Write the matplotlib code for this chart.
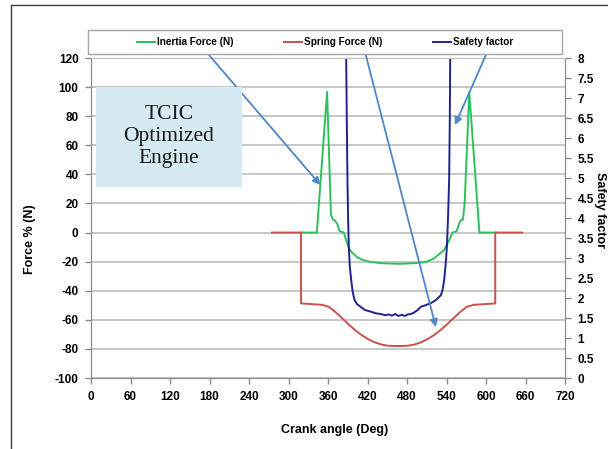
import matplotlib.pyplot as plt
from matplotlib.lines import Line2D
from matplotlib.patches import Rectangle
from matplotlib.ticker import MultipleLocator, FuncFormatter

plt.rcParams['font.family'] = ['Liberation Sans', 'DejaVu Sans']
plt.rcParams['font.weight'] = 'bold'
plt.rcParams['axes.labelweight'] = 'bold'
plt.rcParams['axes.unicode_minus'] = False

# crank angle (deg) and forces (N)
spring_angle = [275, 319, 319, 335, 351, 361, 371, 381, 391, 401, 411, 421, 431,
                441, 451, 461, 466, 471, 481, 491, 501, 511, 521, 531, 541, 551,
                561, 571, 581, 598, 614, 614, 655]
spring_force = [0, 0, -48.7, -49.2, -49.7, -51, -54.5, -58.7, -63, -67, -70.5,
                -73.3, -75.5, -77, -77.8, -78, -78, -78, -77.8, -77, -75.5, -73.3,
                -70.5, -67, -63, -58.7, -54.5, -51, -49.7, -49.2, -48.7, 0, 0]

inertia_angle = [319, 343, 358.6, 361, 364.5, 367.5, 370, 374, 377.5, 384, 388,
                 391.6, 396, 404.4, 414, 424.7, 440, 455, 466, 478, 493, 509, 521,
                 536.4, 544.1, 549.3, 555.5, 559, 562, 565, 567.5, 574.6, 590, 615]
inertia_force = [0, 0, 96.8, 62, 12, 9, 8.5, 6, 1, 0, -6, -10.6, -13.5, -17, -19,
                 -20.2, -21, -21.3, -21.5, -21.3, -21, -20.2, -17.8, -12, -5.2, 0,
                 1, 6, 8.6, 9, 20, 96.5, 0, 0]

sf_angle = [387.3, 388.5, 389.5, 390.5, 391.6, 393, 395.2, 397.5, 400.3, 404,
            409.4, 416, 424.7, 432, 440, 447, 452, 457, 462, 467, 472, 477, 481,
            486, 491, 496, 501, 508, 516, 524, 531.4, 534, 536.4, 538.5, 540.6,
            542.5, 544, 545, 545.8]
safety_factor = [8.5, 6.5, 5, 4, 3.28, 2.8, 2.45, 2.15, 1.95, 1.85, 1.78, 1.7,
                 1.66, 1.62, 1.6, 1.57, 1.59, 1.56, 1.6, 1.55, 1.58, 1.55, 1.59,
                 1.6, 1.64, 1.7, 1.78, 1.82, 1.87, 1.95, 2.07, 2.2, 2.45, 2.8,
                 3.28, 4.1, 4.95, 6.5, 8.5]

green = '#2fbf5c'
red = '#c9524e'
navy = '#22228f'
arrow_blue = '#4f86c6'
axis_gray = '#8c8c8c'
grid_gray = '#c3c3c3'

fig = plt.figure(figsize=(6.08, 4.49), dpi=100)
ax = fig.add_axes([0.1497, 0.1581, 0.7796, 0.7127])
ax2 = ax.twinx()

l1, = ax.plot(inertia_angle, inertia_force, color=green, lw=1.4)
l2, = ax.plot(spring_angle, spring_force, color=red, lw=1.4)
l3, = ax2.plot(sf_angle, safety_factor, color=navy, lw=1.4)

ax.set_xlim(0, 720)
ax.set_ylim(-100, 120)
ax2.set_ylim(0, 8)
ax.xaxis.set_major_locator(MultipleLocator(60))
ax.yaxis.set_major_locator(MultipleLocator(20))
ax2.yaxis.set_major_locator(MultipleLocator(0.5))
ax2.yaxis.set_major_formatter(FuncFormatter(lambda v, p: f'{v:g}'))

ax.yaxis.grid(True, color=grid_gray, lw=1.3)
ax.set_axisbelow(True)

for a in (ax, ax2):
    for side in ('left', 'right', 'bottom'):
        a.spines[side].set_color(axis_gray)
    a.spines['top'].set_color(grid_gray)
    a.tick_params(direction='out', length=4, width=1, color=axis_gray,
                  labelsize=8.5, pad=5)

ax.set_xlabel('Crank angle (Deg)', fontsize=9, va='center')
ax.xaxis.set_label_coords(0.513, -0.1625)
ax.set_ylabel('Force % (N)', fontsize=9, va='center')
ax.yaxis.set_label_coords(-0.129, 0.434)
ax2.set_ylabel('Safety factor', fontsize=9, rotation=270, va='center')
ax2.yaxis.set_label_coords(1.074, 0.525)

# callout arrows from the legend entries
H = 449
for start, tip in [((203, H - 48), (348.4, 32.7)),
                   ((364, H - 48), (523.8, -65)),
                   ((489, H - 48), (552.8, 73.9))]:
    ax2.annotate('', xy=tip, xycoords=ax.transData,
                 xytext=start, textcoords='figure pixels',
                 arrowprops=dict(arrowstyle='-|>', color=arrow_blue, lw=1.3,
                                 mutation_scale=11, shrinkA=0, shrinkB=0),
                 zorder=3)

# engine label box
ax2.add_patch(Rectangle((7, 31.5), 222.5, 68.7, transform=ax.transData,
                        facecolor='#d6eaf1', edgecolor='none', zorder=6))
ax2.text(118, 66, 'TCIC\nOptimized\nEngine', transform=ax.transData,
         ha='center', va='center', multialignment='center', linespacing=1.2,
         fontsize=15.5, fontweight='normal', family='Liberation Serif',
         color='#1a1a1a', zorder=7)

# legend strip
fig.add_artist(Rectangle((88 / 608, 1 - 54 / H), (562 - 88) / 608, 24 / H,
                         transform=fig.transFigure, facecolor='white',
                         edgecolor='#a6a6a6', lw=1, zorder=4))
fig.legend([l1, l2, l3], ['Inertia Force (N)', 'Spring Force (N)', 'Safety factor'],
           loc='center', bbox_to_anchor=(325 / 608, 1 - 42 / H), ncol=3,
           frameon=False, fontsize=7.2, handlelength=1.8, handletextpad=0.15,
           columnspacing=5.1)

# outer frame
fig.add_artist(Line2D([11 / 608, 11 / 608], [0, 1 - 5 / H],
                      transform=fig.transFigure, color='#404040', lw=1))
fig.add_artist(Line2D([11 / 608, 1], [1 - 5 / H, 1 - 5 / H],
                      transform=fig.transFigure, color='#404040', lw=1))

fig.savefig('out.png', dpi=100)
